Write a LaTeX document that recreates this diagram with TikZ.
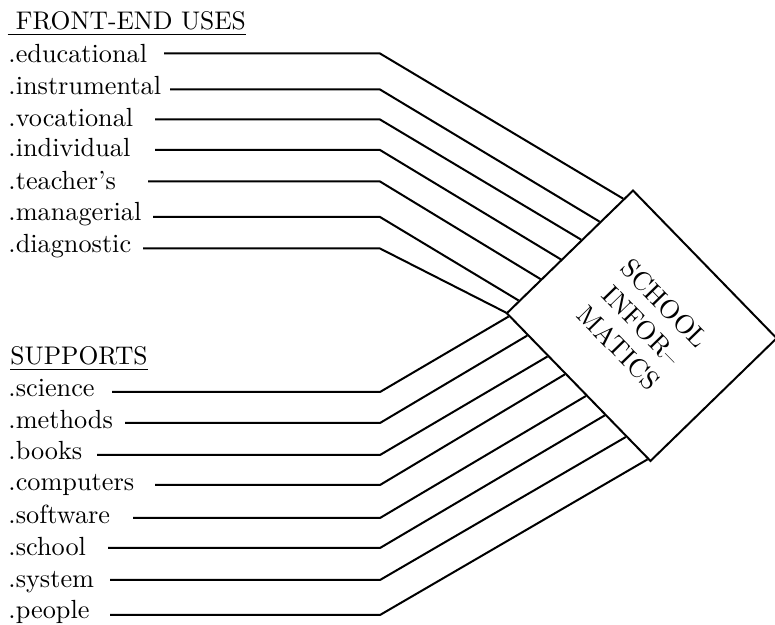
\documentclass[tikz,border=0pt]{standalone}
\usetikzlibrary{calc}
\begin{document}
\begin{tikzpicture}[x=0.4pt,y=-0.4pt,
  lbl/.style={anchor=base west, inner sep=0pt, font=\fontsize{10.5}{12}\selectfont},
  head/.style={anchor=base west, inner sep=0pt, font=\fontsize{10.2}{12}\selectfont},
  link/.style={line width=0.8pt, line join=miter},
  hub/.style={draw, line width=0.8pt, inner sep=0pt, minimum width=82.4pt,
    minimum height=70.4pt, rotate=-45.8, align=center,
    font=\fontsize{10.6}{12.8}\selectfont}]
\useasboundingbox (0,0) rectangle (775,625);

% central box
\node[hub] (sq) at (641.75,325.75) {SCHOOL\\INFOR--\\MATICS};

% headings
\node[head] (fe) at (7,30) {\underline{\ FRONT-END USES}};
\node[head] (sp) at (10,365) {\underline{SUPPORTS}};

% front-end uses: label / baseline / line start / line height / position on west side
\foreach \n/\txt/\bl/\sx/\ly/\t in {
  a/.educational/63/164/53.5/0.077,
  b/.instrumental/95/170/89.5/0.262,
  c/.vocational/127/155/119.5/0.407,
  d/.individual/157/155/150/0.566,
  e/.teacher's/190/148/181.5/0.725,
  f/.managerial/221/153/217/0.897,
  g/.diagnostic/253/143/248.5/0.995}{
  \node[lbl] (u\n) at (8,\bl) {\txt};
  \coordinate (us\n) at (\sx,\ly);
  \coordinate (ub\n) at (380,\ly);
  \coordinate (ue\n) at ($(sq.north west)!\t!(sq.south west)$);
  \draw[link] (us\n) -- (ub\n) -- (ue\n);
}

% supports: position on south side
\foreach \n/\txt/\bl/\sx/\ly/\t in {
  a/.science/397/112/392/0.022,
  b/.methods/429/125/423/0.15,
  c/.books/460/97/455/0.29,
  d/.computers/491/155/485/0.41,
  e/.software/524/133/518/0.555,
  f/.school/556/108/548/0.685,
  g/.system/588/110/580/0.83,
  h/.people/619/110/615/0.98}{
  \node[lbl] (s\n) at (8,\bl) {\txt};
  \coordinate (ss\n) at (\sx,\ly);
  \coordinate (sb\n) at (380,\ly);
  \coordinate (se\n) at ($(sq.south west)!\t!(sq.south east)$);
  \draw[link] (ss\n) -- (sb\n) -- (se\n);
}
\end{tikzpicture}
\end{document}
